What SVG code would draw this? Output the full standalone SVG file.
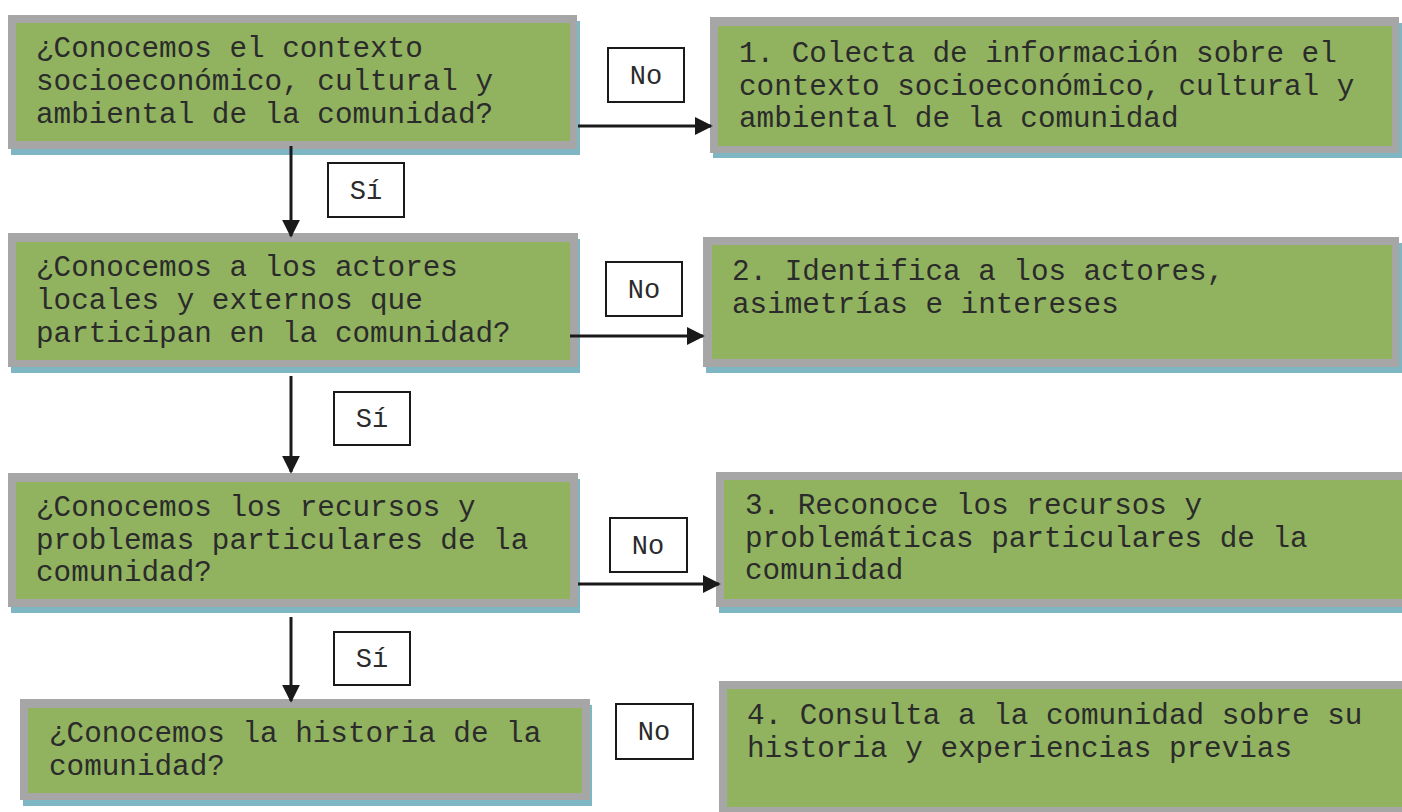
<svg xmlns="http://www.w3.org/2000/svg" width="1402" height="812" viewBox="0 0 1402 812">
<defs>
<style>
.sh{fill:#7fb6c4}
.bd{fill:#a6a6a6}
.in{fill:#91b360}
.t{font-family:"Liberation Mono","Courier New",monospace;font-size:29.3px;fill:#2b2b2b}
.lb{fill:#ffffff;stroke:#1a1a1a;stroke-width:2}
.lt{font-family:"Liberation Mono","Courier New",monospace;font-size:27px;fill:#2b2b2b;text-anchor:middle}
.c{stroke:#1a1a1a;stroke-width:3;fill:none}
</style>
<marker id="ah" markerWidth="6" markerHeight="6" refX="5.4" refY="3" orient="auto" markerUnits="strokeWidth">
<path d="M0,0 L6,3 L0,6 z" fill="#1a1a1a"/>
</marker>
</defs>
<rect width="1402" height="812" fill="#ffffff"/>

<g id="q1">
<rect class="sh" x="11" y="21" width="569" height="134"/>
<rect class="bd" x="8" y="15" width="569" height="134"/>
<rect class="in" x="16" y="23" width="554" height="118"/>
<text class="t" x="36" y="57">¿Conocemos el contexto</text>
<text class="t" x="36" y="90">socioeconómico, cultural y</text>
<text class="t" x="36" y="123">ambiental de la comunidad?</text>
</g>

<g id="a1">
<rect class="sh" x="713" y="23" width="692" height="135"/>
<rect class="bd" x="710" y="17" width="689" height="136"/>
<rect class="in" x="718" y="26" width="674" height="120"/>
<text class="t" x="739" y="62">1. Colecta de información sobre el</text>
<text class="t" x="739" y="95">contexto socioeconómico, cultural y</text>
<text class="t" x="739" y="127">ambiental de la comunidad</text>
</g>

<g id="q2">
<rect class="sh" x="11" y="239" width="569" height="134"/>
<rect class="bd" x="8" y="233" width="570" height="134"/>
<rect class="in" x="16" y="242" width="554" height="118"/>
<text class="t" x="36" y="276">¿Conocemos a los actores</text>
<text class="t" x="36" y="309">locales y externos que</text>
<text class="t" x="36" y="342">participan en la comunidad?</text>
</g>

<g id="a2">
<rect class="sh" x="706" y="243" width="696" height="130"/>
<rect class="bd" x="703" y="237" width="696" height="130"/>
<rect class="in" x="712" y="245" width="680" height="114"/>
<text class="t" x="732" y="280">2. Identifica a los actores,</text>
<text class="t" x="732" y="313">asimetrías e intereses</text>
</g>

<g id="q3">
<rect class="sh" x="11" y="479" width="569" height="134"/>
<rect class="bd" x="8" y="473" width="570" height="134"/>
<rect class="in" x="16" y="482" width="554" height="117"/>
<text class="t" x="36" y="516">¿Conocemos los recursos y</text>
<text class="t" x="36" y="549">problemas particulares de la</text>
<text class="t" x="36" y="581">comunidad?</text>
</g>

<g id="a3">
<rect class="sh" x="719" y="478" width="690" height="135"/>
<rect class="bd" x="716" y="472" width="690" height="135"/>
<rect class="in" x="724" y="480" width="680" height="119"/>
<text class="t" x="745" y="514">3. Reconoce los recursos y</text>
<text class="t" x="745" y="547">problemáticas particulares de la</text>
<text class="t" x="745" y="579">comunidad</text>
</g>

<g id="q4">
<rect class="sh" x="23" y="705" width="569" height="101"/>
<rect class="bd" x="20" y="699" width="570" height="101"/>
<rect class="in" x="28" y="708" width="554" height="85"/>
<text class="t" x="49" y="742">¿Conocemos la historia de la</text>
<text class="t" x="49" y="775">comunidad?</text>
</g>

<g id="a4">
<rect class="bd" x="719" y="681" width="690" height="140"/>
<rect class="in" x="727" y="689" width="680" height="118"/>
<text class="t" x="747" y="724">4. Consulta a la comunidad sobre su</text>
<text class="t" x="747" y="757">historia y experiencias previas</text>
</g>

<g id="connectors">
<line class="c" x1="291" y1="146" x2="291" y2="236" marker-end="url(#ah)"/>
<line class="c" x1="291" y1="376" x2="291" y2="472" marker-end="url(#ah)"/>
<line class="c" x1="291" y1="617" x2="291" y2="701" marker-end="url(#ah)"/>
<line class="c" x1="578" y1="126" x2="711" y2="126" marker-end="url(#ah)"/>
<line class="c" x1="570" y1="336" x2="703" y2="336" marker-end="url(#ah)"/>
<line class="c" x1="578" y1="584" x2="719" y2="584" marker-end="url(#ah)"/>
</g>

<g id="label-no1"><rect class="lb" x="608" y="48" width="76" height="54"/><text class="lt" x="646" y="84">No</text></g>
<g id="label-si1"><rect class="lb" x="328" y="163" width="76" height="54"/><text class="lt" x="366" y="199">Sí</text></g>
<g id="label-no2"><rect class="lb" x="606" y="262" width="76" height="54"/><text class="lt" x="644" y="298">No</text></g>
<g id="label-si2"><rect class="lb" x="334" y="392" width="76" height="53"/><text class="lt" x="372" y="427">Sí</text></g>
<g id="label-no3"><rect class="lb" x="610" y="518" width="77" height="54"/><text class="lt" x="648" y="554">No</text></g>
<g id="label-si3"><rect class="lb" x="334" y="632" width="76" height="53"/><text class="lt" x="372" y="667">Sí</text></g>
<g id="label-no4"><rect class="lb" x="616" y="704" width="77" height="55"/><text class="lt" x="654" y="740">No</text></g>
</svg>
